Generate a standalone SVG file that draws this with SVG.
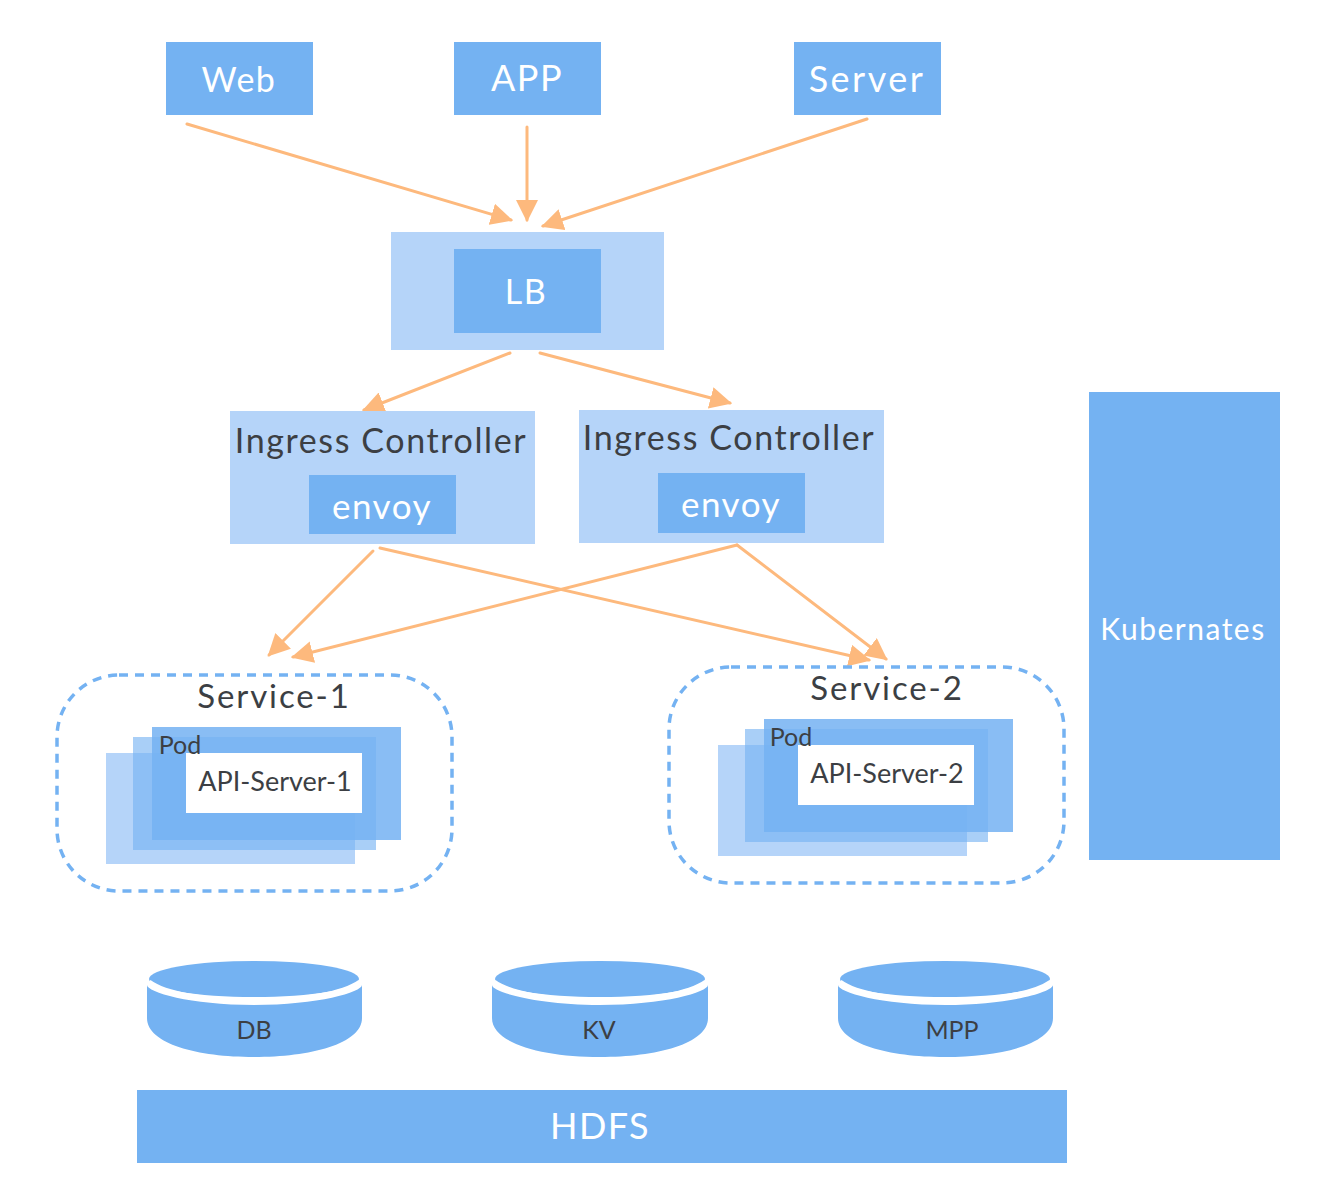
<svg xmlns="http://www.w3.org/2000/svg" width="1320" height="1200" viewBox="0 0 1320 1200">
<style>
text{font-family:"Lato","Noto Sans","Liberation Sans",sans-serif;text-anchor:middle}
.b{fill:#74b2f2}
.l{fill:#b5d4f9}
.w{fill:#fff;font-size:34px;letter-spacing:1.5px}
.d{fill:#3c3f44}
.h{font-size:33px;letter-spacing:1.9px}
.c{fill:none;stroke:#fdb97d;stroke-width:3;stroke-linecap:round;marker-end:url(#a)}
.s{fill:none;stroke:#74b2f2;stroke-width:3.5;stroke-dasharray:9 7}
.p1{fill:#b5d4f9}
.p2{fill:#74b2f2;fill-opacity:.62}
.p3{fill:#74b2f2;fill-opacity:.85}
</style>
<defs>
<marker id="a" markerUnits="userSpaceOnUse" markerWidth="24" markerHeight="22" refX="20" refY="11" orient="auto"><path d="M0 0L22 11L0 22Z" fill="#fdb97d"/></marker>
</defs>
<rect width="1320" height="1200" fill="#fff"/>
<g id="connectors">
<path class="c" d="M187 124L511 220"/>
<path class="c" d="M527 127L527 220"/>
<path class="c" d="M867 119L543 226"/>
<path class="c" d="M510 353L364 410"/>
<path class="c" d="M540 353L730 403"/>
<path class="c" d="M373 551L269 655"/>
<path class="c" d="M380 548L869 660"/>
<path class="c" d="M737 545L293 657"/>
<path class="c" d="M737 545L886 659"/>
</g>
<g id="web"><rect class="b" x="166" y="42" width="147" height="73"/><text class="w" x="239" y="92">Web</text></g>
<g id="app"><rect class="b" x="454" y="42" width="147" height="73"/><text class="w" x="527" y="91" style="font-size:36px">APP</text></g>
<g id="server"><rect class="b" x="794" y="42" width="147" height="73"/><text class="w" x="867" y="92" style="font-size:36px;letter-spacing:2.5px">Server</text></g>
<g id="lb"><rect class="l" x="391" y="232" width="273" height="118"/><rect class="b" x="454" y="249" width="147" height="84"/><text class="w" x="526" y="304">LB</text></g>
<g id="ingress-1"><rect class="l" x="230" y="411" width="305" height="133"/><text class="d h" x="381" y="453" style="font-size:34px;letter-spacing:1.6px">Ingress Controller</text><rect class="b" x="309" y="475" width="147" height="59"/><text class="w" x="382" y="519" style="font-size:35px">envoy</text></g>
<g id="ingress-2"><rect class="l" x="579" y="410" width="305" height="133"/><text class="d h" x="729" y="450" style="font-size:34px;letter-spacing:1.6px">Ingress Controller</text><rect class="b" x="658" y="473" width="147" height="60"/><text class="w" x="731" y="517" style="font-size:35px">envoy</text></g>
<g id="kubernates"><rect class="b" x="1089" y="392" width="191" height="468"/><text class="w" x="1183" y="640" style="font-size:30px">Kubernates</text></g>
<g id="service-1">
<rect class="s" x="57" y="675" width="395" height="216" rx="62"/>
<text class="d h" x="274" y="708">Service-1</text>
<rect class="p1" x="106" y="753" width="249" height="111"/>
<rect class="p2" x="133" y="737" width="243" height="113"/>
<rect class="p3" x="152" y="727" width="249" height="113"/>
<rect fill="#fff" x="186" y="753" width="176" height="60"/>
<text class="d" x="180" y="754" font-size="25">Pod</text>
<text class="d" x="275" y="791" font-size="27">API-Server-1</text>
</g>
<g id="service-2">
<rect class="s" x="669" y="667" width="395" height="216" rx="62"/>
<text class="d h" x="887" y="700">Service-2</text>
<rect class="p1" x="718" y="745" width="249" height="111"/>
<rect class="p2" x="745" y="729" width="243" height="113"/>
<rect class="p3" x="764" y="719" width="249" height="113"/>
<rect fill="#fff" x="798" y="745" width="176" height="60"/>
<text class="d" x="791" y="746" font-size="25">Pod</text>
<text class="d" x="887" y="783" font-size="27">API-Server-2</text>
</g>
<g id="db">
<path class="b" d="M147 985C147 992 190 1005 254 1005C318 1005 362 992 362 985V1018C362 1044 310 1057 254 1057C198 1057 147 1044 147 1018Z"/>
<ellipse class="b" cx="254" cy="979" rx="105" ry="18"/>
<path d="M149 982C165 994 205 1001 254 1001C303 1001 343 994 360 982" fill="none" stroke="#fff" stroke-width="5"/>
<text class="d" x="254" y="1039" font-size="25">DB</text>
</g>
<g id="kv">
<path class="b" d="M492 985C492 992 536 1005 600 1005C664 1005 708 992 708 985V1018C708 1044 656 1057 600 1057C544 1057 492 1044 492 1018Z"/>
<ellipse class="b" cx="600" cy="979" rx="105" ry="18"/>
<path d="M494 982C510 994 551 1001 600 1001C649 1001 689 994 706 982" fill="none" stroke="#fff" stroke-width="5"/>
<text class="d" x="599" y="1039" font-size="25">KV</text>
</g>
<g id="mpp">
<path class="b" d="M838 985C838 992 881 1005 945 1005C1009 1005 1053 992 1053 985V1018C1053 1044 1001 1057 945 1057C889 1057 838 1044 838 1018Z"/>
<ellipse class="b" cx="945" cy="979" rx="105" ry="18"/>
<path d="M840 982C856 994 896 1001 945 1001C994 1001 1034 994 1051 982" fill="none" stroke="#fff" stroke-width="5"/>
<text class="d" x="952" y="1039" font-size="25">MPP</text>
</g>
<g id="hdfs"><rect class="b" x="137" y="1090" width="930" height="73"/><text class="w" x="600" y="1139" style="font-size:36px">HDFS</text></g>
</svg>
